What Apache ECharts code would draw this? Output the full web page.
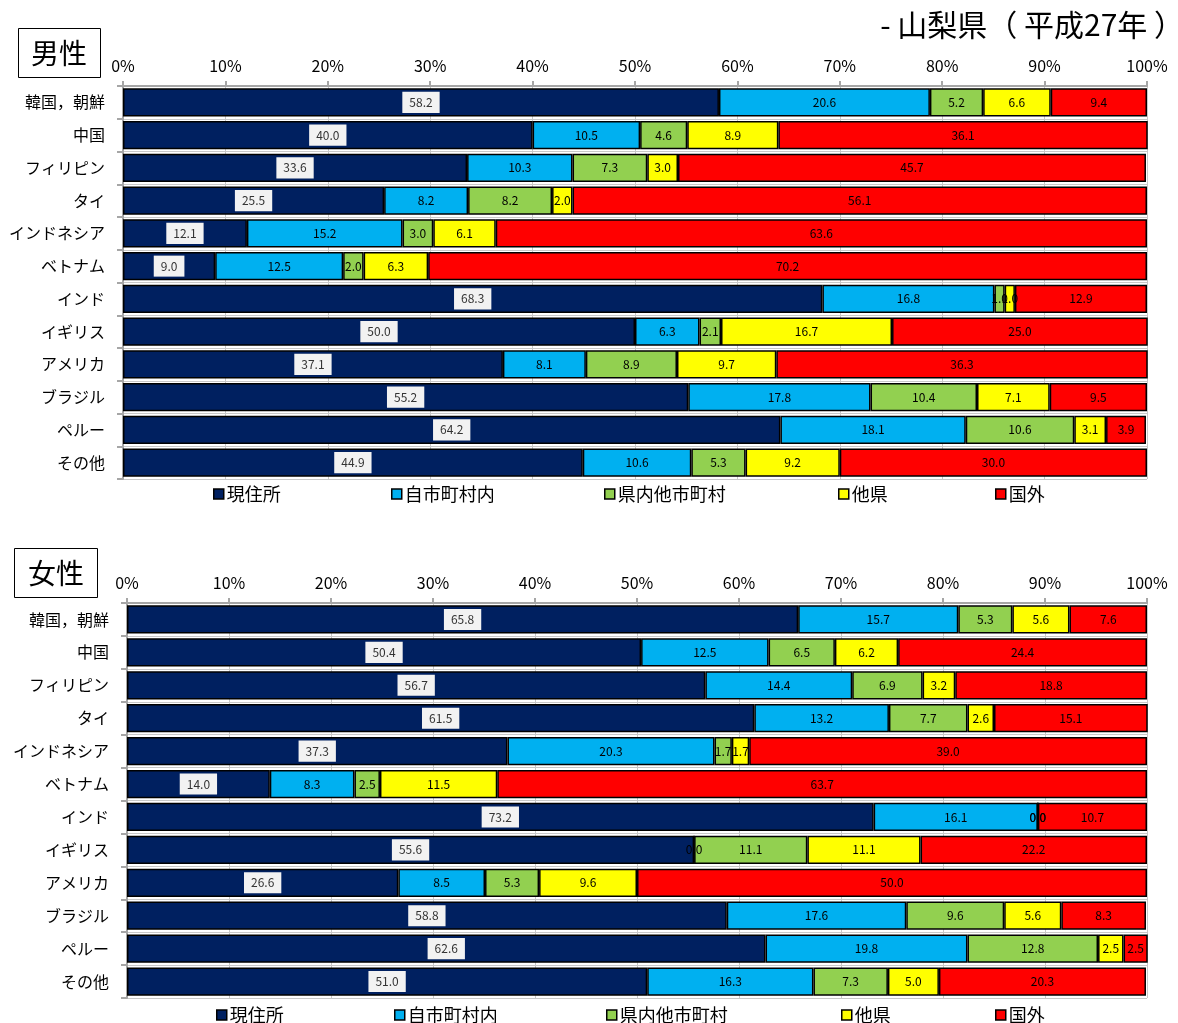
<!DOCTYPE html>
<html>
<head>
<meta charset="utf-8">
<script src="https://cdn.jsdelivr.net/npm/echarts@6/dist/echarts.min.js"></script>
<style>html,body{margin:0;padding:0;background:#fff;}#c{width:1178px;height:1023px;}</style>
</head>
<body>
<div id="c"></div>
<script>
const categories = ['韓国，朝鮮','中国','フィリピン','タイ','インドネシア','ベトナム','インド','イギリス','アメリカ','ブラジル','ペルー','その他'];
const seriesNames = ['現住所','自市町村内','県内他市町村','他県','国外'];
const colors = ['#002060','#00B0F0','#92D050','#FFFF00','#FF0000'];
const xTicks = [0,10,20,30,40,50,60,70,80,90,100];

const male_genjusho = [58.2,40.0,33.6,25.5,12.1,9.0,68.3,50.0,37.1,55.2,64.2,44.9];
const male_jishi    = [20.6,10.5,10.3,8.2,15.2,12.5,16.8,6.3,8.1,17.8,18.1,10.6];
const male_kennai   = [5.2,4.6,7.3,8.2,3.0,2.0,1.0,2.1,8.9,10.4,10.6,5.3];
const male_taken    = [6.6,8.9,3.0,2.0,6.1,6.3,1.0,16.7,9.7,7.1,3.1,9.2];
const male_kokugai  = [9.4,36.1,45.7,56.1,63.6,70.2,12.9,25.0,36.3,9.5,3.9,30.0];

const female_genjusho = [65.8,50.4,56.7,61.5,37.3,14.0,73.2,55.6,26.6,58.8,62.6,51.0];
const female_jishi    = [15.7,12.5,14.4,13.2,20.3,8.3,16.1,0.0,8.5,17.6,19.8,16.3];
const female_kennai   = [5.3,6.5,6.9,7.7,1.7,2.5,0.0,11.1,5.3,9.6,12.8,7.3];
const female_taken    = [5.6,6.2,3.2,2.6,1.7,11.5,0.0,11.1,9.6,5.6,2.5,5.0];
const female_kokugai  = [7.6,24.4,18.8,15.1,39.0,63.7,10.7,22.2,50.0,8.3,2.5,20.3];

const maleData = [male_genjusho, male_jishi, male_kennai, male_taken, male_kokugai];
const femaleData = [female_genjusho, female_jishi, female_kennai, female_taken, female_kokugai];

const FONT = '"Noto Sans CJK JP", "Noto Sans", sans-serif';
const grids = [
  {left:123, right:31, top:86, height:393},
  {left:127, right:31, top:603, height:395}
];

function xAxis(gi){
  return {
    gridIndex: gi, type:'value', min:0, max:100, interval:10, position:'top',
    axisLabel:{formatter: v => v + '%', fontSize:16, color:'#000', fontFamily:FONT, margin:12},
    axisLine:{show:true, lineStyle:{color:'#a6a6a6', width:2}},
    axisTick:{show:true, length:5, lineStyle:{color:'#a6a6a6', width:2}},
    splitLine:{show:true, lineStyle:{color:'#c8c8c8', width:1}}
  };
}
function yAxis(gi){
  return {
    gridIndex: gi, type:'category', inverse:true, data:categories,
    axisLabel:{fontSize:16, color:'#000', fontFamily:FONT, margin:18},
    axisLine:{show:true, lineStyle:{color:'#a6a6a6', width:2}},
    axisTick:{show:true, length:6, lineStyle:{color:'#a6a6a6', width:2}},
    splitLine:{show:true, lineStyle:{color:'#c8c8c8', width:1}}
  };
}

const series = [];
[maleData, femaleData].forEach((dataSet, gi) => {
  dataSet.forEach((arr, si) => {
    const label = {
      show:true, position:'inside', fontSize:12, color:'#000', fontFamily:FONT,
      formatter: p => p.value.toFixed(1)
    };
    if (si === 0) {
      Object.assign(label, {backgroundColor:'#f2f2f2', padding:[5,7,4,7], color:'#333'});
    }
    series.push({
      name: seriesNames[si], type:'bar', stack:'s'+gi,
      xAxisIndex:gi, yAxisIndex:gi,
      barCategoryGap:'14%',
      data: arr,
      itemStyle:{color:colors[si], borderColor:'#000', borderWidth:1.5},
      label: label,
      emphasis:{disabled:true},
      animation:false
    });
  });
});

const legendLeftMale = [213,391,604,838,995];
const legendLeftFemale = [216,394,606,841,995];
const legends = [];
[[legendLeftMale, 485],[legendLeftFemale, 1006]].forEach(([lefts, top]) => {
  seriesNames.forEach((n, i) => {
    legends.push({
      data:[n], left:lefts[i], top:top, icon:'rect', itemWidth:10, itemHeight:10, itemGap:4,
      padding:0,
      selectedMode:false,
      itemStyle:{borderColor:'#000', borderWidth:1.5},
      textStyle:{fontSize:18, lineHeight:18, color:'#000', fontFamily:FONT, padding:[0,0,0,-2]}
    });
  });
});

const option = {
  backgroundColor:'#fff',
  animation:false,
  grid: grids,
  xAxis: [xAxis(0), xAxis(1)],
  yAxis: [yAxis(0), yAxis(1)],
  legend: legends,
  series: series,
  graphic: [
    {type:'text', right:-6, top:10, style:{text:'- 山梨県（ 平成27年 ）', fontSize:30, fill:'#000', fontFamily:FONT}},
    {type:'rect', shape:{x:18.5,y:28.5,width:82,height:49}, style:{fill:'#fff', stroke:'#000', lineWidth:1}},
    {type:'text', x:59, y:53, style:{text:'男性', fontSize:28, fill:'#000', fontFamily:FONT, textAlign:'center', textVerticalAlign:'middle'}},
    {type:'rect', shape:{x:14.5,y:548.5,width:83,height:49}, style:{fill:'#fff', stroke:'#000', lineWidth:1}},
    {type:'text', x:56, y:573, style:{text:'女性', fontSize:28, fill:'#000', fontFamily:FONT, textAlign:'center', textVerticalAlign:'middle'}}
  ]
};

const chart = echarts.init(document.getElementById('c'), null, {renderer:'canvas'});
chart.setOption(option);
</script>
</body>
</html>
